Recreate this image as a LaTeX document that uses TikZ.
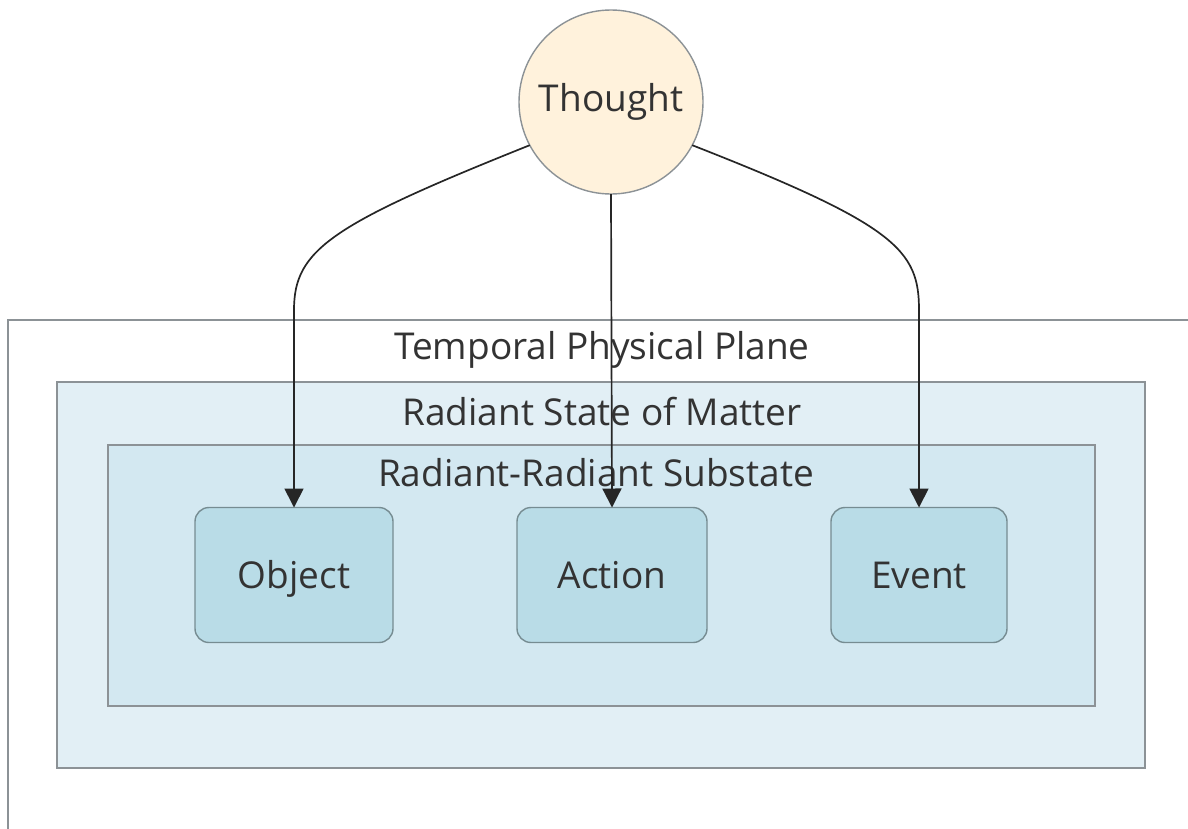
\documentclass[tikz,border=0pt]{standalone}
\usepackage{fontspec}
\setmainfont{Open Sans}
\usetikzlibrary{arrows.meta,positioning}

\definecolor{txtgray}{RGB}{51,51,51}
\definecolor{lineclr}{RGB}{140,146,150}
\definecolor{thoughtfill}{RGB}{255,242,220}
\definecolor{statefill}{RGB}{226,239,245}
\definecolor{subfill}{RGB}{211,232,241}
\definecolor{itemfill}{RGB}{185,220,231}
\definecolor{itemline}{RGB}{118,140,146}

\begin{document}
\begin{tikzpicture}[x=1pt,y=-1pt,
    every node/.style={text=txtgray,font=\fontsize{37}{42}\selectfont,outer sep=0pt},
    plane/.style={draw=lineclr,line width=1.6pt,anchor=north west,inner sep=0pt},
    item/.style={draw=itemline,fill=itemfill,line width=1.4pt,rounded corners=14pt,
      minimum height=135,text height=26.5pt,text depth=0pt},
    flow/.style={draw=black!85,line width=1.7pt,-{Triangle[width=19pt,length=19pt]}}]
  \useasboundingbox (0,0) rectangle (1188,828);
  \clip (0,0) rectangle (1188,828);

  % nested planes
  \node[plane,fill=white,minimum width=1188,minimum height=540] (physical) at (8,320) {};
  \node[plane,fill=statefill,minimum width=1088,minimum height=386] (radiant) at (57,382) {};
  \node[plane,fill=subfill,minimum width=987,minimum height=261] (substate) at (108,445) {};
  \node (physicaltitle) at (602,350) {Temporal Physical Plane};
  \node (radianttitle) at (602,412) {Radiant State of Matter};
  \node (substatetitle) at (596,473) {Radiant-Radiant Substate};

  % thought and its three outcomes
  \node[circle,draw=lineclr,fill=thoughtfill,line width=1.4pt,minimum size=184] (thought) at (611,102) {Thought};
  \node[item,minimum width=198] (object) at (294,575) {Object};
  \node[item,minimum width=190] (action) at (612,575) {Action};
  \node[item,minimum width=176] (event) at (919,575) {Event};

  \draw[flow] (thought.208) .. controls (330,225) and (294,250) .. (294,310) -- (object.north);
  \draw[flow] (thought.south) -- (action.north);
  \draw[flow] (thought.-28) .. controls (896,225) and (919,250) .. (919,310) -- (event.north);
\end{tikzpicture}
\end{document}
